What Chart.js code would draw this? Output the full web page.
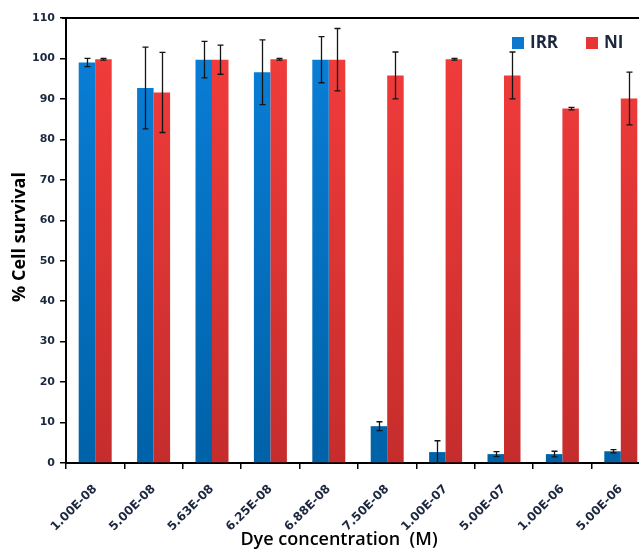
<!DOCTYPE html>
<html>
<head>
<meta charset="utf-8">
<script src="https://cdn.jsdelivr.net/npm/chart.js@4/dist/chart.umd.min.js"></script>
<style>
html,body{margin:0;padding:0;background:#fff;overflow:hidden;}
#wrap{width:639px;height:552px;overflow:hidden;position:relative;}
canvas{position:absolute;left:0;top:0;}
</style>
</head>
<body>
<div id="wrap"><canvas id="c" width="660" height="552"></canvas></div>
<script>
const categories = ["1.00E-08","5.00E-08","5.63E-08","6.25E-08","6.88E-08","7.50E-08","1.00E-07","5.00E-07","1.00E-06","5.00E-06"];
const irrValues = [99.0, 92.7, 99.7, 96.6, 99.7, 9.1, 2.7, 2.2, 2.2, 2.9];
const irrErrors = [1.0, 10.1, 4.5, 8.0, 5.7, 1.1, 2.8, 0.6, 0.7, 0.4];
const niValues  = [99.8, 91.6, 99.7, 99.8, 99.7, 95.8, 99.8, 95.8, 87.6, 90.1];
const niErrors  = [0.2, 9.9, 3.6, 0.2, 7.7, 5.8, 0.2, 5.8, 0.3, 6.5];
const seriesNames = ["IRR","NI"];
const yTicks = {min:0, max:110, step:10};

const textColor = '#1c2740';

function grad(ctx, top, bottom){
  const chart = ctx.chart;
  const a = chart.chartArea;
  if(!a) return top;
  const g = chart.ctx.createLinearGradient(0, a.top, 0, a.bottom);
  g.addColorStop(0, top);
  g.addColorStop(1, bottom);
  return g;
}

const errorBars = {
  id:'errorBars',
  afterDatasetsDraw(chart){
    const c = chart.ctx, ys = chart.scales.y;
    const errs = [irrErrors, niErrors];
    const vals = [irrValues, niValues];
    c.save();
    c.strokeStyle = '#151515';
    c.lineWidth = 1.3;
    chart.data.datasets.forEach((ds, di)=>{
      const meta = chart.getDatasetMeta(di);
      meta.data.forEach((el, i)=>{
        const v = vals[di][i], e = errs[di][i];
        const yt = ys.getPixelForValue(v + e);
        const yb = ys.getPixelForValue(Math.max(0, v - e));
        const x = Math.round(el.x) + 0.5;
        c.beginPath();
        c.moveTo(x, yt); c.lineTo(x, yb);
        c.moveTo(x-3, yt); c.lineTo(x+3, yt);
        c.moveTo(x-3, yb); c.lineTo(x+3, yb);
        c.stroke();
      });
    });
    c.restore();
  }
};

const decor = {
  id:'decor',
  afterDraw(chart){
    const c = chart.ctx, a = chart.chartArea;
    c.save();
    c.strokeStyle = '#000'; c.lineWidth = 2;
    c.beginPath(); c.moveTo(a.left-4, a.top); c.lineTo(chart.width, a.top); c.stroke();
    const items = [
      {name: seriesNames[0], color: '#0a78cf', x: 512},
      {name: seriesNames[1], color: '#e73535', x: 586}
    ];
    c.font = 'bold 17px "Open Sans"';
    c.textBaseline = 'middle';
    c.textAlign = 'left';
    items.forEach(it=>{
      c.fillStyle = it.color;
      c.fillRect(it.x, 37, 12, 12);
      c.fillStyle = textColor;
      c.fillText(it.name, it.x + 18, 43);
    });
    c.fillStyle = '#000';
    c.font = 'bold 18px "Open Sans"';
    c.textAlign = 'center';
    c.textBaseline = 'middle';
    c.save();
    c.translate(20, 237);
    c.rotate(-Math.PI/2);
    c.fillText('% Cell survival', 0, 0);
    c.restore();
    c.font = '600 18px "Open Sans"';
    c.fillText('Dye concentration  (M)', 339, 540);
    c.restore();
  }
};

new Chart(document.getElementById('c'), {
  type:'bar',
  data:{
    labels: categories,
    datasets:[
      {label: seriesNames[0], data: irrValues,
       backgroundColor: ctx => grad(ctx, '#0a80da', '#0062a8'),
       borderWidth:0},
      {label: seriesNames[1], data: niValues,
       backgroundColor: ctx => grad(ctx, '#f43d3c', '#c52d2c'),
       borderWidth:0}
    ]
  },
  options:{
    responsive:false,
    animation:false,
    devicePixelRatio:1,
    layout:{padding:{top:18,left:0,right:10,bottom:0}},
    plugins:{legend:{display:false}, tooltip:{enabled:false}},
    datasets:{bar:{categoryPercentage:0.565, barPercentage:1.0}},
    scales:{
      x:{
        grid:{display:true, drawOnChartArea:false, drawTicks:true, tickLength:6, color:'#000', lineWidth:1.5, offset:true},
        border:{display:true, color:'#000', width:2},
        ticks:{maxRotation:45, minRotation:45, color:textColor, padding:13,
               font:{family:'"DejaVu Sans"', size:12, weight:'bold'}},
        afterFit(s){ s.height = 89; }
      },
      y:{
        min:yTicks.min, max:yTicks.max,
        grid:{display:true, drawOnChartArea:false, drawTicks:true, tickLength:6, color:'#000', lineWidth:1.5},
        border:{display:true, color:'#000', width:2},
        ticks:{stepSize:yTicks.step, color:textColor, padding:5,
               font:{family:'"DejaVu Sans"', size:11, weight:'bold'}},
        afterFit(s){ s.width = 66; }
      }
    }
  },
  plugins:[errorBars, decor]
});
</script>
</body>
</html>
